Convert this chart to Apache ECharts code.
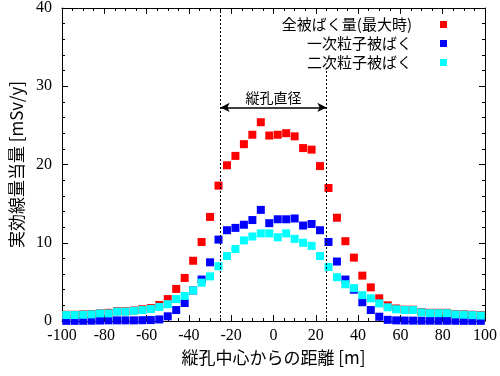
<!DOCTYPE html>
<html><head><meta charset="utf-8">
<script src="https://cdn.jsdelivr.net/npm/echarts@6/dist/echarts.min.js"></script>
<style>html,body{margin:0;padding:0;background:#fff}#c{width:500px;height:376px}</style>
</head><body><div id="c"></div>
<script>
var xs = [-98,-94,-90,-86,-82,-78,-74,-70,-66,-62,-58,-54,-50,-46,-42,-38,-34,-30,-26,-22,-18,-14,-10,-6,-2,2,6,10,14,18,22,26,30,34,38,42,46,50,54,58,62,66,70,74,78,82,86,90,94,98];
var totalDose = [0.8,0.8,0.85,0.9,1.0,1.05,1.25,1.25,1.35,1.5,1.65,2.05,2.8,4.1,5.5,7.7,10.1,13.3,17.3,19.9,21.1,22.6,23.8,25.4,23.7,23.8,24.0,23.6,22.1,21.9,19.8,17.0,13.2,10.2,8.1,5.8,4.3,2.9,2.0,1.6,1.45,1.45,1.15,1.05,1.05,1.05,0.9,0.85,0.8,0.75];
var primaryDose = [0.02,0.02,0.03,0.04,0.06,0.08,0.08,0.08,0.08,0.1,0.12,0.2,0.6,1.4,2.3,3.9,5.3,7.5,10.4,11.6,11.9,12.3,12.9,14.2,12.5,13.0,13.0,13.1,12.2,12.4,11.6,10.1,7.6,5.3,4.0,2.4,1.4,0.55,0.15,0.08,0.06,0.05,0.04,0.04,0.03,0.03,0.03,0.02,0.02,0.02];
var secondaryDose = [0.76,0.76,0.8,0.85,0.97,0.97,1.19,1.19,1.3,1.4,1.53,1.8,2.15,2.8,3.2,3.9,4.9,5.7,7.0,8.3,9.2,10.3,10.8,11.2,11.2,10.7,11.2,10.5,10.0,9.6,8.3,6.9,5.6,4.7,4.2,3.3,2.9,2.25,1.75,1.5,1.4,1.4,1.1,1.0,1.0,1.0,0.85,0.8,0.75,0.7];
var seriesNames = ['全被ばく量(最大時)','一次粒子被ばく','二次粒子被ばく'];
var xTicks = [-100,-80,-60,-40,-20,0,20,40,60,80,100];
var yTicks = [0,10,20,30,40];

function pairs(v){ return xs.map(function(x,i){ return [x, v[i]]; }); }
var serif = 'Liberation Serif';
var jp = 'Noto Sans CJK JP';
function axisCommon(show){
  return {
    axisLine:{show:true,onZero:false,lineStyle:{color:'#000',width:1}},
    axisTick:{show:true,inside:true,length:6,lineStyle:{color:'#000'}},
    minorTick:{show:true,length:3,lineStyle:{color:'#000'}},
    splitLine:{show:false},
    axisLabel:{show:show,color:'#000',fontFamily:serif,fontSize:16}
  };
}
var xb = Object.assign(axisCommon(true),{type:'value',position:'bottom',min:-100,max:100,interval:20,
  name:'縦孔中心からの距離 [m]',nameLocation:'middle',nameGap:26,
  nameTextStyle:{fontFamily:jp,fontSize:17,color:'#000'}});
xb.axisLabel.margin=7;
xb.minorTick.splitNumber=4;
var xt = Object.assign(axisCommon(false),{type:'value',position:'top',min:-100,max:100,interval:20});
xt.minorTick.splitNumber=4;
var yl = Object.assign(axisCommon(true),{type:'value',position:'left',min:0,max:40,interval:10,
  name:'実効線量当量 [mSv/y]',nameLocation:'middle',nameGap:36,nameRotate:90,
  nameTextStyle:{fontFamily:jp,fontSize:17,color:'#000'}});
yl.axisLabel.margin=10;
yl.minorTick.splitNumber=5;
var yr = Object.assign(axisCommon(false),{type:'value',position:'right',min:0,max:40,interval:10});
yr.minorTick.splitNumber=5;

var dotted = {color:'#000',type:[2,2],width:1};
var option = {
  animation:false,
  backgroundColor:'#fff',
  grid:{left:62,right:15,top:7,bottom:55},
  xAxis:[xb,xt],
  yAxis:[yl,yr],
  legend:{
    data:seriesNames, orient:'vertical', right:48, top:12, align:'right',
    itemWidth:7, itemHeight:7, itemGap:4,
    textStyle:{fontFamily:jp,fontSize:15,color:'#000',padding:[0,23,0,0]},
    icon:'rect'
  },
  series:[
    {name:seriesNames[0],type:'scatter',symbol:'rect',symbolSize:8,itemStyle:{color:'#ff0000',opacity:1},data:pairs(totalDose),
     markLine:{silent:true,symbol:['none','none'],label:{show:false},lineStyle:dotted,
       data:[
         [{coord:[-25,0]},{coord:[-25,40]}],
         [{coord:[25,0]},{coord:[25,32.4]}]
       ]}},
    {name:seriesNames[1],type:'scatter',symbol:'rect',symbolSize:8,itemStyle:{color:'#0000ff',opacity:1},data:pairs(primaryDose),
     markLine:{silent:true,symbol:['arrow','arrow'],symbolSize:[7,9],lineStyle:{color:'#000',type:'solid',width:1.5},
       label:{show:true,position:'middle',formatter:'縦孔直径',fontFamily:jp,fontSize:14,color:'#000',distance:3},
       data:[[{coord:[-25,27.3]},{coord:[25,27.3]}]]}},
    {name:seriesNames[2],type:'scatter',symbol:'rect',symbolSize:8,itemStyle:{color:'#00ffff',opacity:1},data:pairs(secondaryDose)}
  ]
};
echarts.init(document.getElementById('c'),null,{renderer:'canvas'}).setOption(option);
</script></body></html>
